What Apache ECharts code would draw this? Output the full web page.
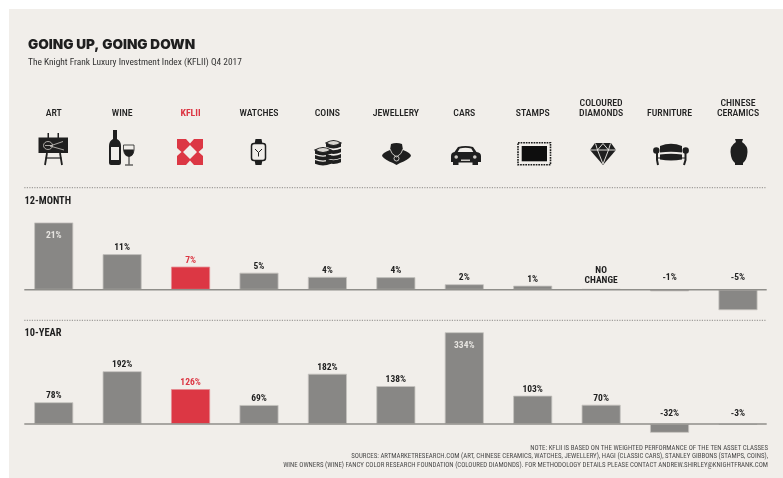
<!DOCTYPE html>
<html><head><meta charset="utf-8">
<style>html,body{margin:0;padding:0;background:#fff}#c{width:783px;height:478px}</style>
<script src="https://cdn.jsdelivr.net/npm/echarts@6/dist/echarts.min.js"></script>
</head><body><div id="c"></div>
<script>
const categories = ['ART','WINE','KFLII','WATCHES','COINS','JEWELLERY','CARS','STAMPS','COLOURED\nDIAMONDS','FURNITURE','CHINESE\nCERAMICS'];
const highlight = 'KFLII';
const labels12 = ['21%','11%','7%','5%','4%','4%','2%','1%','NO\nCHANGE','-1%','-5%'];
const bars12 = [21,11.1,7.2,5.3,4,3.9,1.7,1.25,0.2,-0.5,-6.4];
const labels10 = ['78%','192%','126%','69%','182%','138%','334%','103%','70%','-32%','-3%'];
const bars10 = [79,192,127,69,183,138,334,103,70,-32,-3];
const insideLabels = ['21%','334%'];
const footnote = [
 'NOTE: KFLII IS BASED ON THE WEIGHTED PERFORMANCE OF THE TEN ASSET CLASSES',
 'SOURCES: ARTMARKETRESEARCH.COM (ART, CHINESE CERAMICS, WATCHES, JEWELLERY), HAGI (CLASSIC CARS), STANLEY GIBBONS (STAMPS, COINS),',
 'WINE OWNERS (WINE) FANCY COLOR RESEARCH FOUNDATION (COLOURED DIAMONDS). FOR METHODOLOGY DETAILS PLEASE CONTACT ANDREW.SHIRLEY@KNIGHTFRANK.COM'
];
const BG='#f1eeea', GREY='#888785', RED='#dc3744', INK='#1f1f1f';
const NARROW='"Liberation Sans Narrow","Roboto Condensed","Liberation Sans",sans-serif';

function seriesData(bars, labels){
  return bars.map((v,i)=>{
    const red = categories[i]===highlight, inside = insideLabels.includes(labels[i]);
    return {
      value:v,
      itemStyle:{color:red?RED:GREY, borderColor:red?'#e58a90':'#c4c2be', borderWidth:0.8},
      label:{
        position: inside?'insideTop':'top',
        distance: inside?8:(v<0?(labels===labels12?7:5):(labels[i].includes('\n')?3:1.5)),
        color: inside?'#e6e4e0':(red?RED:INK)
      }
    };
  });
}
function barSeries(idx,bars,labels){
  return {type:'bar',xAxisIndex:idx,yAxisIndex:idx,barWidth:39,silent:true,animation:false,
    data:seriesData(bars,labels),
    label:{show:true,fontFamily:NARROW,fontWeight:'bold',fontSize:9.5,lineHeight:10,
      formatter:p=>labels[p.dataIndex]}};
}
/* decorative icons */
const el=[];
let iconId=0;
const P=(d,fill,stroke,lw,dash)=>{
  const name='icon'+(iconId++);
  echarts.graphic.registerShape(name,echarts.graphic.extendPath(d,{}));
  el.push({type:name,silent:true,z:5,style:{fill:fill||'none',stroke:stroke||'none',lineWidth:lw||0,lineDash:dash||null}});
};
// ART
P('M38.5 137.5H68V153H38.5Z',INK);
P('M47.5 133H49V138H47.5ZM57.5 133H59V138H57.5Z',INK);
P('M47 153L45 165M60 153L62 165',null,INK,1.8);
P('M45.5 158H61.5',null,INK,1.2);
P('M52.5 145.5A4.5 4 0 1 0 43.5 145.5A4.5 4 0 1 0 52.5 145.5ZM45 145.5H52M50 146L63 141.5M50 146L64 150',null,'#cfccc7',0.8);
// WINE
P('M113 130H117V139Q121 141 121 146V163Q121 165 119 165H111Q109 165 109 163V146Q109 141 113 139Z',INK);
P('M111 147H119V160H111Z',BG);
P('M123.5 145H134Q135 156 129 156.5Q122.5 156 123.5 145Z',null,INK,0.8);
P('M123.7 149.5H133.8Q134 156 129 156.5Q123.7 156 123.7 149.5Z',INK);
P('M129 156V164.5M125 165H133',null,INK,1);
// KFLII
P('M177 139H203V165H177Z',RED);
P('M190 145L197 152L190 159L183 152ZM186 139H194L190 143.5ZM186 165H194L190 160.5ZM177 148V156L181.5 152ZM203 148V156L198.5 152Z',BG);
// WATCHES
P('M254.5 144L255.5 139H261.5L262.5 144ZM254.5 160L255.5 165H261.5L262.5 160Z',INK);
P('M254 143.5H263Q265.5 143.5 265.5 146V158Q265.5 160.5 263 160.5H254Q251.5 160.5 251.5 158V146Q251.5 143.5 254 143.5Z',BG,INK,1.5);
P('M258.5 152.5L255 149M258.5 152.5L262 149M258.5 152.5V156.5',null,INK,1);
// COINS
const coinBand=(x0,x1,y,h)=>{const c=(x0+x1)/2;return `M${x0} ${y}Q${c} ${y+3.5} ${x1} ${y}V${y+h}Q${c} ${y+h+3.5} ${x0} ${y+h}Z`;};
const coinTop=(x0,x1,y)=>{const c=(x0+x1)/2;return `M${x0} ${y}Q${c} ${y-5} ${x1} ${y}Q${c} ${y+5} ${x0} ${y}Z`;};
[[326,341,143,[143,148.5,154,158.5]],[315,331,150,[150,155,160]]].forEach(([a,b,t,ys])=>{
  ys.forEach(y=>P(coinBand(a,b,y,3.8),INK));
  P(coinTop(a,b,t),'#d8d5d0',INK,1.2);
});
// JEWELLERY
P('M391 144Q396.5 142 402 144L403 150Q411 153 411 156Q408 160 400 163L396.5 165L393 163Q385 160 382 156Q382 153 390 150Z',INK);
P('M390 149Q391 154 396.5 157Q402 154 403 149',null,'#d8d5d0',0.9);
P('M399 158.5A2.5 2.5 0 1 0 394 158.5A2.5 2.5 0 1 0 399 158.5Z',null,'#d8d5d0',0.9);
// CARS
P('M451 156Q451 152.5 454.5 152L458 147Q465.5 145 473 147L476.5 152Q481 152.5 481 156V162H478V165H472.5V162.5H458.5V165H453V162H451Z',INK);
P('M457.7 152L459.7 148.4Q465.5 147 471.3 148.4L473.3 152Z',BG);
P('M458 157A1.8 1.8 0 1 0 454.4 157A1.8 1.8 0 1 0 458 157ZM476.6 157A1.8 1.8 0 1 0 473 157A1.8 1.8 0 1 0 476.6 157ZM461 159.5H470V161H461Z','#cfccc7');
// STAMPS
P('M518 142.7H550.5V164.7H518Z',null,'#1c1c1c',1.6,[1.7,0.9]);
P('M521.7 146H547V161.3H521.7Z','#0e0e0e');
// COLOURED DIAMONDS
P('M595 143H611L616 150L603 165L590 150Z',INK);
P('M590 150H616M597.5 150L603 164M608.5 150L603 164M595.5 143.5L597.5 150L603 143.5L608.5 150L610.5 143.5',null,BG,0.9);
// FURNITURE
P('M660 146Q671 141.5 682 146V152.5Q671 151 660 152.5Z',INK);
P('M660 154.5Q671 153 682 154.5V159.5Q671 161.5 660 159.5Z',INK);
P('M659.5 150.5A3.2 3.2 0 1 0 653.1 150.5A3.2 3.2 0 1 0 659.5 150.5ZM688.9 150.5A3.2 3.2 0 1 0 682.5 150.5A3.2 3.2 0 1 0 688.9 150.5Z',INK);
P('M657 151V160L658 165M685.5 151V160L684 165',null,INK,2);
P('M656.5 158H686',null,INK,1);
// CHINESE CERAMICS
P('M735 139H743L742 142Q748 146 747.5 152Q747 160 743 163V165H735V163Q731 160 730.5 152Q730 146 736 142Z',INK);

// panel, rules, baselines
el.unshift({type:'rect',silent:true,z:-10,shape:{x:9,y:9,width:774,height:469},style:{fill:BG}});
const hline=(y,dash,color,w)=>el.push({type:'line',silent:true,z:dash?1:6,shape:{x1:24.3,y1:y,x2:766.7,y2:y},style:{stroke:color,lineWidth:w,lineDash:dash}});
hline(187.6,[1.2,1.3],'#a09e9b',1.3);
hline(320.4,[1.2,1.3],'#a09e9b',1.3);
hline(289.7,null,'#8f8e8a',1.5);
hline(424,null,'#8f8e8a',1.5);
const T=(text,x,y,font,fill,align)=>el.push({type:'text',silent:true,z:6,x,y,style:{text,font,fill,textAlign:align||'left',textVerticalAlign:'middle'}});
T('12-MONTH',24.5,201.6,'bold 10.4px '+NARROW,INK);
T('10-YEAR',24.5,333.6,'bold 10.4px '+NARROW,INK);
footnote.forEach((t,i)=>T(t,768,447.8+i*8.7,'6.85px '+NARROW,'#4a4a4a','right'));

const option={
  backgroundColor:'#fff',animation:false,
  title:[
    {text:'GOING UP, GOING DOWN',left:28,top:37.5,padding:0,textStyle:{fontFamily:'Inter,"DejaVu Sans",sans-serif',fontWeight:900,fontSize:13.6,color:INK,lineHeight:14}},
    {text:'The Knight Frank Luxury Investment Index (KFLII) Q4 2017',left:28,top:56.5,padding:0,textStyle:{fontFamily:NARROW,fontWeight:'normal',fontSize:9.4,color:'#333',lineHeight:12}}
  ],
  grid:[
    {left:19.5,top:209.7,width:752.7,height:112},
    {left:19.5,top:327.9,width:752.7,height:109.8}
  ],
  xAxis:[
    {gridIndex:0,type:'category',data:categories,position:'top',offset:88.5,
     axisLine:{show:false,onZero:false},axisTick:{show:false},
     axisLabel:{interval:0,margin:2,fontFamily:NARROW,fontWeight:500,fontSize:9.8,lineHeight:10.5,color:'#222',
       formatter:v=>v===highlight?`{r|${v}}`:v,
       rich:{r:{color:RED,fontFamily:NARROW,fontSize:9.8,fontWeight:'bold'}}}},
    {gridIndex:1,type:'category',data:categories,axisLine:{show:false},axisTick:{show:false},axisLabel:{show:false}}
  ],
  yAxis:[
    {gridIndex:0,type:'value',min:-10,max:25,show:false},
    {gridIndex:1,type:'value',min:-50,max:350,show:false}
  ],
  series:[barSeries(0,bars12,labels12),barSeries(1,bars10,labels10)],
  graphic:{elements:el}
};
echarts.init(document.getElementById('c')).setOption(option);
</script></body></html>
